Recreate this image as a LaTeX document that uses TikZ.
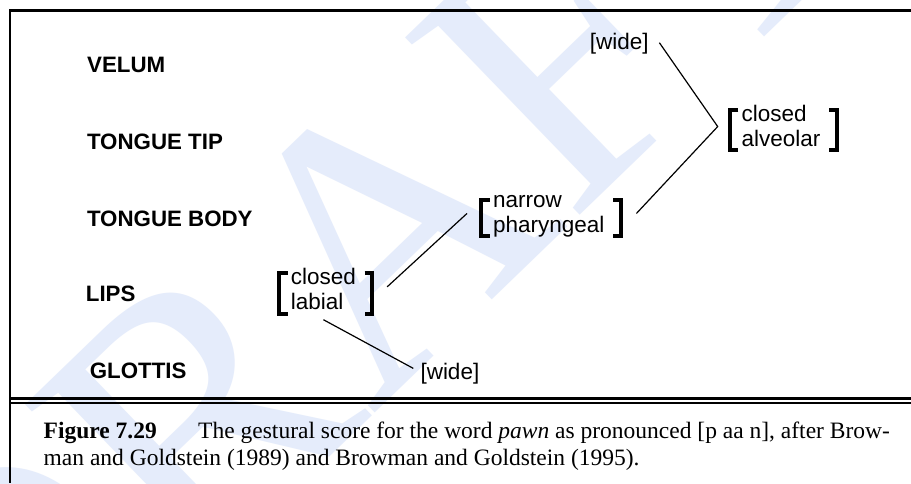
\documentclass[tikz,border=0pt]{standalone}
\usepackage{fontspec}
\setmainfont{Liberation Serif}
\setsansfont{Liberation Sans}
\definecolor{wmblue}{RGB}{229,236,251}

\begin{document}
\begin{tikzpicture}[
        x=1pt, y=-1pt,
        tier/.style={
            anchor=base west,
            inner sep=0pt,
            font=\sffamily\bfseries\fontsize{22.3}{26}\selectfont
        },
        gest/.style={
            anchor=north west,
            inner sep=0pt,
            align=left,
            font=\sffamily\fontsize{22.5}{25}\selectfont,
            execute at begin node={\rule{0pt}{17pt}},
            execute at end node={\rule[-5pt]{0pt}{5pt}}
        },
        param/.style={
            anchor=base west,
            inner sep=0pt,
            font=\sffamily\fontsize{22.5}{25}\selectfont
        },
        caption/.style={
            anchor=north west,
            inner sep=0pt,
            align=left,
            font=\rmfamily\fontsize{23.5}{27.3}\selectfont
        },
        wmark/.style={
            anchor=base west,
            inner sep=0pt,
            rotate=44,
            text=wmblue,
            font=\rmfamily\fontsize{380}{380}\selectfont
        },
        brk/.style={
            line width=4pt,
            line join=miter
        },
        link/.style={
            line width=1.2pt,
            draw=black
        }
    ]

    \useasboundingbox (0,0) rectangle (911,483);
    \fill[white] (0,0) rectangle (911,483);

    % Filigrane
    \begin{scope}
        \clip (0,0) rectangle (911,483);
        \node[wmark] (draft) at (-7,782) {DRAFT};
    \end{scope}

    % Cadre et double filet
    \draw[line width=2.8pt] (911,10.5) -- (10,10.5) -- (10,483);
    \draw[line width=2.6pt] (10,398.2) -- (911,398.2);
    \draw[line width=2pt] (10,403.3) -- (911,403.3);

    % Articulateurs
    \node[tier] (velum) at (87,72.7) {VELUM};
    \node[tier] (tip) at (86.8,149.3) {TONGUE TIP};
    \node[tier] (body) at (86.8,226) {TONGUE BODY};
    \node[tier] (lips) at (85.7,301.9) {LIPS};
    \node[tier] (glottis) at (89.7,378.5) {GLOTTIS};

    % Gestes
    \node[gest] (lab) at (290.7,268) {closed\\labial};
    \node[gest] (phar) at (492.8,194.7) {narrow\\pharyngeal};
    \node[gest] (alv) at (741.3,104.7) {closed\\alveolar};
    \node[param] (wtop) at (589.6,49.5) {[wide]};
    \node[param] (wbot) at (420.3,379) {[wide]};

    % Crochets
    \draw[brk] ([xshift=-3pt,yshift=-5pt]lab.north west) -- ([xshift=-11.5pt,yshift=-5pt]lab.north west)
        -- ([xshift=-11.5pt,yshift=1pt]lab.south west) -- ([xshift=-3pt,yshift=1pt]lab.south west);
    \draw[brk] ([xshift=8.5pt,yshift=-5pt]lab.north east) -- ([xshift=16pt,yshift=-5pt]lab.north east)
        -- ([xshift=16pt,yshift=1pt]lab.south east) -- ([xshift=8.5pt,yshift=1pt]lab.south east);
    \draw[brk] ([xshift=-3pt,yshift=-5pt]phar.north west) -- ([xshift=-11.5pt,yshift=-5pt]phar.north west)
        -- ([xshift=-11.5pt,yshift=1pt]phar.south west) -- ([xshift=-3pt,yshift=1pt]phar.south west);
    \draw[brk] ([xshift=8.5pt,yshift=-5pt]phar.north east) -- ([xshift=16pt,yshift=-5pt]phar.north east)
        -- ([xshift=16pt,yshift=1pt]phar.south east) -- ([xshift=8.5pt,yshift=1pt]phar.south east);
    \draw[brk] ([xshift=-3pt,yshift=-5pt]alv.north west) -- ([xshift=-11.5pt,yshift=-5pt]alv.north west)
        -- ([xshift=-11.5pt,yshift=1pt]alv.south west) -- ([xshift=-3pt,yshift=1pt]alv.south west);
    \draw[brk] ([xshift=8.5pt,yshift=-5pt]alv.north east) -- ([xshift=16pt,yshift=-5pt]alv.north east)
        -- ([xshift=16pt,yshift=1pt]alv.south east) -- ([xshift=8.5pt,yshift=1pt]alv.south east);

    % Liaisons
    \coordinate (fork) at ([shift={(-23.6pt,1.5pt)}]alv.west);
    \draw[link] ([yshift=-5pt]lab.south) -- ([shift={(-7pt,4.8pt)}]wbot.west);
    \draw[link] ([shift={(31pt,4.5pt)}]lab.east) -- ([shift={(-25.8pt,2.5pt)}]phar.west);
    \draw[link] ([shift={(10.6pt,1pt)}]wtop.east) -- (fork) -- ([shift={(31.9pt,2.5pt)}]phar.east);

    % Legende
    \node[caption] (cap) at (43.5,421.7) {\textbf{Figure 7.29}\hspace{41.4pt}The gestural score for the word \emph{pawn} as pronounced [p aa n], after Brow-\\man and Goldstein (1989) and Browman and Goldstein (1995).};

\end{tikzpicture}
\end{document}
